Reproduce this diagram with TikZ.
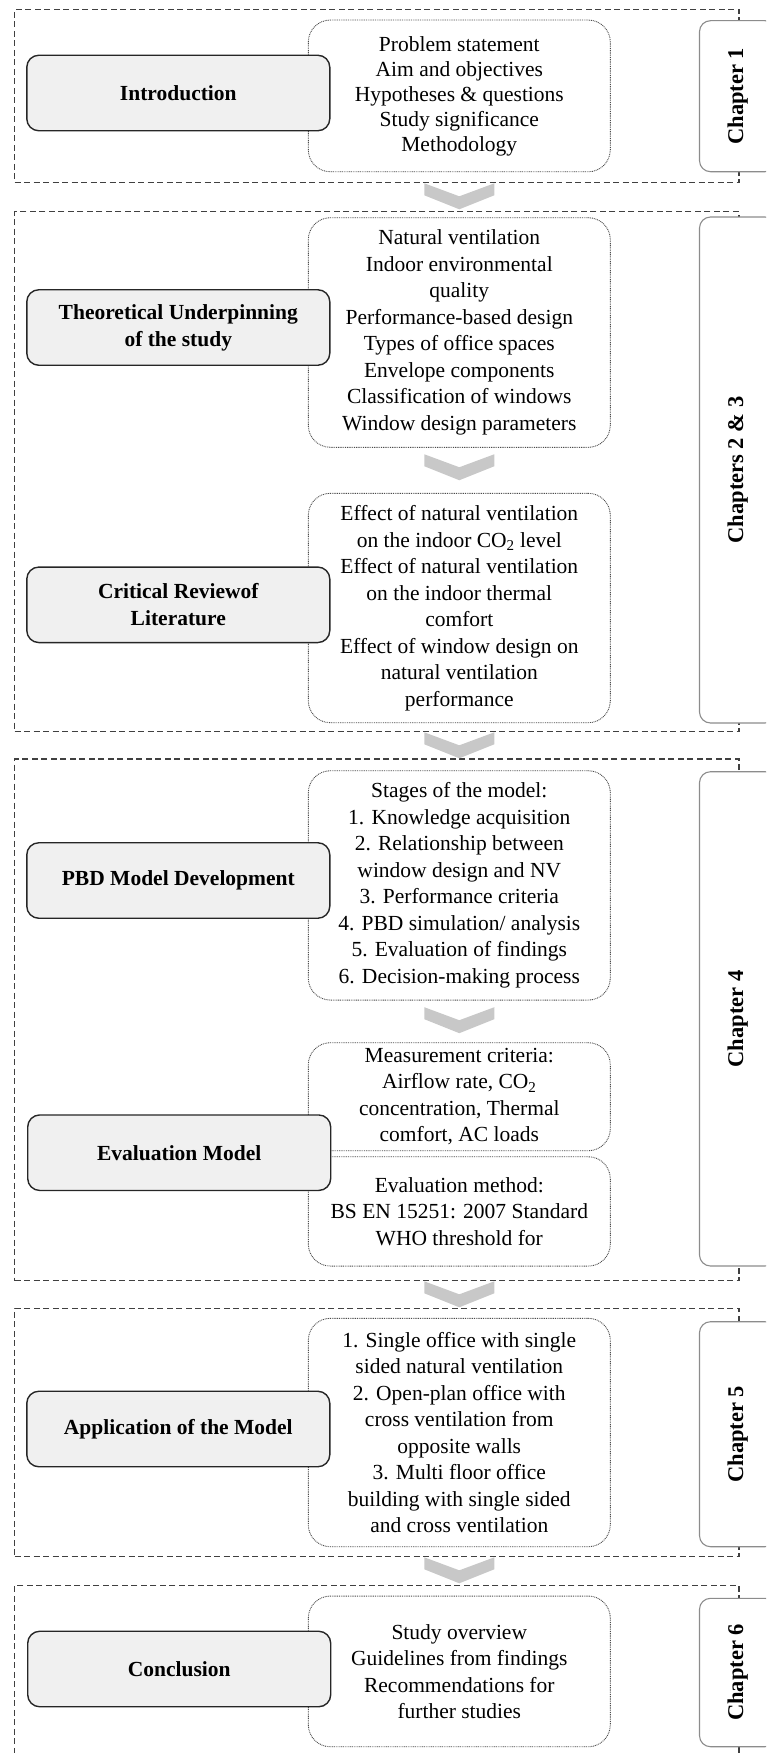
\documentclass[tikz,border=0pt]{standalone}
\usepackage{fontspec}
\setmainfont{Liberation Serif}
\definecolor{chevgray}{RGB}{200,200,200}
\definecolor{topicfill}{RGB}{240,240,240}
\tikzset{
  section/.style={draw=black!75, line width=1.2pt, dash pattern=on 6pt off 3.5pt,
    minimum width=724.3pt, inner sep=0pt},
  chaptab/.style={draw=black!45, line width=1.1pt, rounded corners=11pt, fill=white,
    rotate=90, minimum height=76.5pt, inner sep=0pt,
    font=\bfseries\fontsize{22.5}{26}\selectfont},
  detail/.style={draw=black!70, line width=0.9pt, dash pattern=on 0.9pt off 0.9pt,
    rounded corners=22pt, fill=white, minimum width=302pt, align=center, inner sep=0pt,
    font=\fontsize{21.5}{26.5}\selectfont},
  topic/.style={draw=black!85, line width=1.4pt, rounded corners=12pt, fill=topicfill,
    minimum width=303pt, minimum height=75.5pt, align=center, inner sep=0pt,
    font=\bfseries\fontsize{21.5}{27}\selectfont},
  chev/.pic={\fill[chevgray] (-35,0) -- (0,13) -- (35,0) -- (35,12) -- (0,26) -- (-35,12) -- cycle;}
}
\begin{document}
\begin{tikzpicture}[x=1pt,y=-1pt]
\useasboundingbox (0,0) rectangle (766,1753);
\clip (0,0) rectangle (766,1753);

% chapter frames
\node[section, minimum height=173.4pt] (s1) at (376.85,96) {};
\node[section, minimum height=520pt]   (s2) at (376.85,471.7) {};
\node[section, minimum height=521.7pt] (s3) at (376.85,1019.85) {};
\node[section, minimum height=248.4pt] (s4) at (376.85,1432.5) {};
\node[section, minimum height=184.5pt] (s5) at (376.85,1677.75) {};

% chapter tabs on the right edge
\node[chaptab, minimum width=151pt]   (t1) at (737.75,96.2)    {Chapter 1};
\node[chaptab, minimum width=506pt]   (t2) at (737.75,470)     {Chapters 2 \& 3};
\node[chaptab, minimum width=494.3pt] (t4) at (737.75,1018.85) {Chapter 4};
\node[chaptab, minimum width=225pt]   (t5) at (737.75,1434.2)  {Chapter 5};
\node[chaptab, minimum width=148.4pt] (t6) at (737.75,1672.5)  {Chapter 6};

% content boxes
\node[detail, minimum height=151.7pt, font=\fontsize{21.5}{25}\selectfont] (d1) at (459.3,95.9)
  {Problem statement\\Aim and objectives\\Hypotheses \& questions\\Study significance\\Methodology};
\node[detail, minimum height=229.6pt] (d2) at (459.3,332.5)
  {Natural ventilation\\Indoor environmental\\quality\\Performance-based design\\Types of office spaces\\Envelope components\\Classification of windows\\Window design parameters};
\node[detail, minimum height=229.4pt] (d3) at (459.3,608)
  {Effect of natural ventilation\\on the indoor CO\textsubscript{2} level\\Effect of natural ventilation\\on the indoor thermal\\comfort\\Effect of window design on\\natural ventilation\\performance};
\node[detail, minimum height=229.3pt] (d4) at (459.3,885.4)
  {Stages of the model:\\1. Knowledge acquisition\\2. Relationship between\\window design and NV\\3. Performance criteria\\4. PBD simulation/ analysis\\5. Evaluation of findings\\6. Decision-making process};
\node[detail, minimum height=108pt] (d5a) at (459.3,1096.7)
  {Measurement criteria:\\Airflow rate, CO\textsubscript{2}\\concentration, Thermal\\comfort, AC loads};
\node[detail, minimum height=109.3pt] (d5b) at (459.3,1211.4)
  {Evaluation method:\\BS EN 15251: 2007 Standard\\WHO threshold for};
\node[detail, minimum height=228.4pt] (d6) at (459.3,1432.5)
  {1. Single office with single\\sided natural ventilation\\2. Open-plan office with\\cross ventilation from\\opposite walls\\3. Multi floor office\\building with single sided\\and cross ventilation};
\node[detail, minimum height=150.7pt] (d7) at (459.3,1671.4)
  {Study overview\\Guidelines from findings\\Recommendations for\\further studies};

% flow chevrons
\pic at (d1.south |- s1.south) {chev};
\pic at ([yshift=-6.5pt]d2.south) {chev};
\pic at (d3.south |- s2.south) {chev};
\pic at ([yshift=-6.7pt]d4.south) {chev};
\pic at (d5b.south |- s3.south) {chev};
\pic at (d6.south |- s4.south) {chev};

% topic boxes
\node[topic] (intro)  at (178.3,93)     {Introduction};
\node[topic] (theory) at (178.3,327.5)  {Theoretical Underpinning\\of the study};
\node[topic] (review) at (178.3,604.8)  {Critical Reviewof\\Literature};
\node[topic] (pbd)    at (178.3,880.5)  {PBD Model Development};
\node[topic] (evalm)  at (179.2,1152.7) {Evaluation Model};
\node[topic] (app)    at (178.3,1429)   {Application of the Model};
\node[topic] (concl)  at (179.2,1669)   {Conclusion};
\end{tikzpicture}
\end{document}
